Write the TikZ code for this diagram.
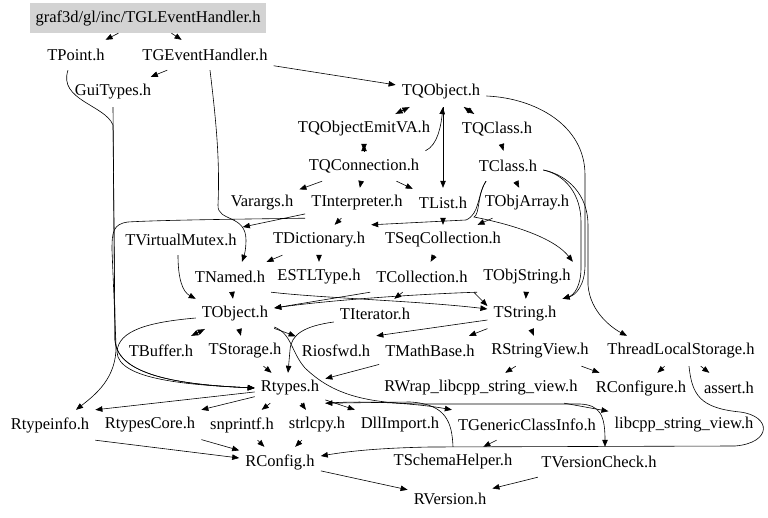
\documentclass[tikz,border=0pt]{standalone}
\usepackage{fontspec}
\setmainfont{Liberation Serif}
\usetikzlibrary{arrows.meta}
\definecolor{rootgray}{RGB}{211,211,211}
\begin{document}
\begin{tikzpicture}[x=1pt,y=-1pt,
  file/.style={font=\fontsize{16.5}{19}\selectfont, inner xsep=6pt, inner ysep=0pt, minimum height=30pt},
  edge/.style={line width=0.6pt, -{Triangle[length=7pt,width=5.5pt]}}]
\useasboundingbox (0,0) rectangle (768,518);
% nodes
\node[file, fill=rootgray] (root) at (148,18) {graf3d/gl/inc/TGLEventHandler.h};
\node[file] (tpoint) at (76,55) {TPoint.h};
\node[file] (tgeh) at (205,55) {TGEventHandler.h};
\node[file] (guit) at (113,92) {GuiTypes.h};
\node[file] (tqobj) at (441,92) {TQObject.h};
\node[file] (tqemit) at (364,129) {TQObjectEmitVA.h};
\node[file] (tqclass) at (497,129) {TQClass.h};
\node[file] (tqconn) at (364,166) {TQConnection.h};
\node[file] (tclass) at (508,166) {TClass.h};
\node[file] (varargs) at (262,203) {Varargs.h};
\node[file] (tinterp) at (357,203) {TInterpreter.h};
\node[file] (tlist) at (443,203) {TList.h};
\node[file] (tobjarr) at (527,203) {TObjArray.h};
\node[file] (tvmutex) at (181,240) {TVirtualMutex.h};
\node[file] (tdict) at (319,240) {TDictionary.h};
\node[file] (tseq) at (443,240) {TSeqCollection.h};
\node[file] (tnamed) at (230,277) {TNamed.h};
\node[file] (estl) at (319,277) {ESTLType.h};
\node[file] (tcoll) at (422,277) {TCollection.h};
\node[file] (tobjstr) at (527,277) {TObjString.h};
\node[file] (tobject) at (235,314) {TObject.h};
\node[file] (titer) at (375,314) {TIterator.h};
\node[file] (tstring) at (525,314) {TString.h};
\node[file] (tbuffer) at (161,351) {TBuffer.h};
\node[file] (tstorage) at (245,351) {TStorage.h};
\node[file] (riosfwd) at (336,351) {Riosfwd.h};
\node[file] (tmath) at (430,351) {TMathBase.h};
\node[file] (rsv) at (540,351) {RStringView.h};
\node[file] (tls) at (681,351) {ThreadLocalStorage.h};
\node[file] (rtypes) at (290,388) {Rtypes.h};
\node[file] (rwrap) at (481,388) {RWrap\_libcpp\_string\_view.h};
\node[file] (rconfigure) at (641,388) {RConfigure.h};
\node[file] (assert) at (729,388) {assert.h};
\node[file] (rtypeinfo) at (50,425) {Rtypeinfo.h};
\node[file] (rtypescore) at (150,425) {RtypesCore.h};
\node[file] (snprintf) at (242,425) {snprintf.h};
\node[file] (strlcpy) at (317,425) {strlcpy.h};
\node[file] (dllimport) at (400,425) {DllImport.h};
\node[file] (tgci) at (527,425) {TGenericClassInfo.h};
\node[file] (libcpp) at (684,425) {libcpp\_string\_view.h};
\node[file] (rconfig) at (280,462) {RConfig.h};
\node[file] (tschema) at (453,462) {TSchemaHelper.h};
\node[file] (tvc) at (599,462) {TVersionCheck.h};
\node[file] (rversion) at (450,499) {RVersion.h};
% edges
\draw[edge] (root) -- (tpoint);
\draw[edge] (root) -- (tgeh);
\draw[edge] (tgeh) -- (guit);
\draw[edge] (tgeh) -- (tqobj);
\draw[edge] ([xshift=5pt]tgeh.south) .. controls (216,120) and (220,160) .. (218,205) .. controls (217,222) and (246,214) .. (246,240) .. controls (246,250) and (244,256) .. ([xshift=12pt]tnamed.north);
\draw[edge] ([xshift=-8pt]tpoint.south) .. controls (58,100) and (105,105) .. (113,125) -- (115,340) .. controls (117,378) and (190,385) .. (rtypes.west);
\draw[edge] (guit.south) -- (115,340) .. controls (117,378) and (190,385) .. (rtypes.west);
\draw[edge] ([yshift=-4pt]tobject.west) .. controls (150,322) and (118,330) .. (117,352) .. controls (118,380) and (190,385) .. (rtypes.west);
\draw[edge] (tinterp.south west) .. controls (250,219) and (160,220) .. (128,222) .. controls (113,224) and (112,232) .. (112,250) -- (116,345) .. controls (117,378) and (95,395) .. ([xshift=26pt]rtypeinfo.north);
\draw[edge] (tqobj) -- (tqemit);
\draw[edge] (tqemit) -- (tqobj);
\draw[edge] (tqobj) -- (tqclass);
\draw[edge] (tqclass) -- (tqobj);
\draw[edge] (tqemit) -- (tqconn);
\draw[edge] (tqconn) -- (tqemit);
\draw[edge] (tqconn.north east) .. controls (438,145) and (441,125) .. ([xshift=2pt]tqobj.south);
\draw[edge] ([xshift=2pt]tqobj.south) -- (tlist.north);
\draw[edge] ([yshift=-4pt]tqobj.east) .. controls (535,98) and (585,125) .. (585,175) -- (585,265) .. controls (585,285) and (576,295) .. (tstring.north east);
\draw[edge] (tqclass) -- (tclass);
\draw[edge] (tqconn) -- (varargs);
\draw[edge] (tqconn) -- (tinterp);
\draw[edge] (tqconn) -- (tlist);
\draw[edge] (tclass) -- (tobjarr);
\draw[edge] ([xshift=-22pt]tclass.south) .. controls (477,195) and (480,214) .. (466,220) -- (tdict.north east);
\draw[edge] ([xshift=-22pt]tclass.south) .. controls (477,195) and (480,214) .. (474,217) .. controls (520,226) and (556,240) .. ([xshift=-4pt]tobjstr.north east);
\draw[edge] ([yshift=-4pt]tclass.east) .. controls (566,175) and (581,195) .. (581,222) -- (581,268) .. controls (581,286) and (574,295) .. (tstring.north east);
\draw[edge] ([yshift=-4pt]tclass.east) .. controls (568,175) and (588,195) .. (588,225) -- (588,285) .. controls (590,312) and (612,328) .. ([xshift=-54pt]tls.north);
\draw[edge] (tinterp) -- (tvmutex);
\draw[edge] (tinterp) -- (tdict);
\draw[edge] (tlist) -- (tseq);
\draw[edge] (tobjarr) -- (tseq);
\draw[edge] ([xshift=-3pt]tvmutex.south) .. controls (178,280) and (183,292) .. (tobject.north west);
\draw[edge] (tdict) -- (tnamed);
\draw[edge] (tdict) -- (estl);
\draw[edge] (tseq) -- (tcoll);
\draw[edge] (tnamed) -- (tobject);
\draw[edge] (tnamed.south east) .. controls (320,298) and (420,301) .. ([yshift=5pt]tstring.west);
\draw[edge] (tcoll.south west) -- ([yshift=6pt]tobject.east);
\draw[edge] (tcoll.south east) -- ([yshift=8pt]tstring.west);
\draw[edge] (tcoll) -- (titer);
\draw[edge] (tobjstr) -- (tstring);
\draw[edge] (tobjstr.south west) .. controls (420,294) and (330,300) .. ([yshift=6pt]tobject.east);
\draw[edge] (tobject) -- (tbuffer);
\draw[edge] (tbuffer) -- (tobject);
\draw[edge] (tobject) -- (tstorage);
\draw[edge] (tobject) -- (riosfwd);
\draw[edge] ([yshift=-13pt]tobject.east) .. controls (292,334) and (291,352) .. (305,368) .. controls (330,392) and (360,403) .. (420,404) -- (580,404) .. controls (600,405) and (605,415) .. ([xshift=6pt]tvc.north);
\draw[edge] ([yshift=-8pt]titer.west) .. controls (305,326) and (291,334) .. (290,350) -- ([xshift=-2pt]rtypes.north);
\draw[edge] (tstorage) -- (rtypes);
\draw[edge] ([yshift=-6pt]tstring.west) -- (riosfwd.north east);
\draw[edge] (tstring) -- (tmath);
\draw[edge] (tstring) -- (rsv);
\draw[edge] (tmath) -- (rtypes);
\draw[edge] (rsv) -- (rwrap);
\draw[edge] (rsv) -- (rconfigure);
\draw[edge] (tls) -- (rconfigure);
\draw[edge] (tls) -- (assert);
\draw[edge] ([xshift=8pt]tls.south) .. controls (692,395) and (700,408) .. (740,412) .. controls (772,416) and (772,443) .. (735,446) -- (430,447) .. controls (380,448) and (350,451) .. ([yshift=6pt]rconfig.east);
\draw[edge] (rtypes) -- (rtypeinfo.north east);
\draw[edge] (rtypes) -- (rtypescore.north east);
\draw[edge] (rtypes) -- (snprintf);
\draw[edge] (rtypes) -- (strlcpy);
\draw[edge] (rtypes) -- (dllimport);
\draw[edge] (rtypes.south east) .. controls (370,400) and (420,404) .. (tgci.north west);
\draw[edge] (tschema.north) .. controls (452,422) and (446,404) .. (410,402) -- (rtypes.south east);
\draw[edge] (tgci) -- (tschema);
\draw[edge] (rwrap) -- (libcpp);
\draw[edge] (rtypeinfo.south east) -- ([yshift=4pt]rconfig.west);
\draw[edge] (rtypescore) -- (rconfig);
\draw[edge] (snprintf) -- (rconfig);
\draw[edge] (strlcpy) -- (rconfig);
\draw[edge] (rconfig) -- (rversion);
\draw[edge] (tvc) -- (rversion);
\end{tikzpicture}
\end{document}
